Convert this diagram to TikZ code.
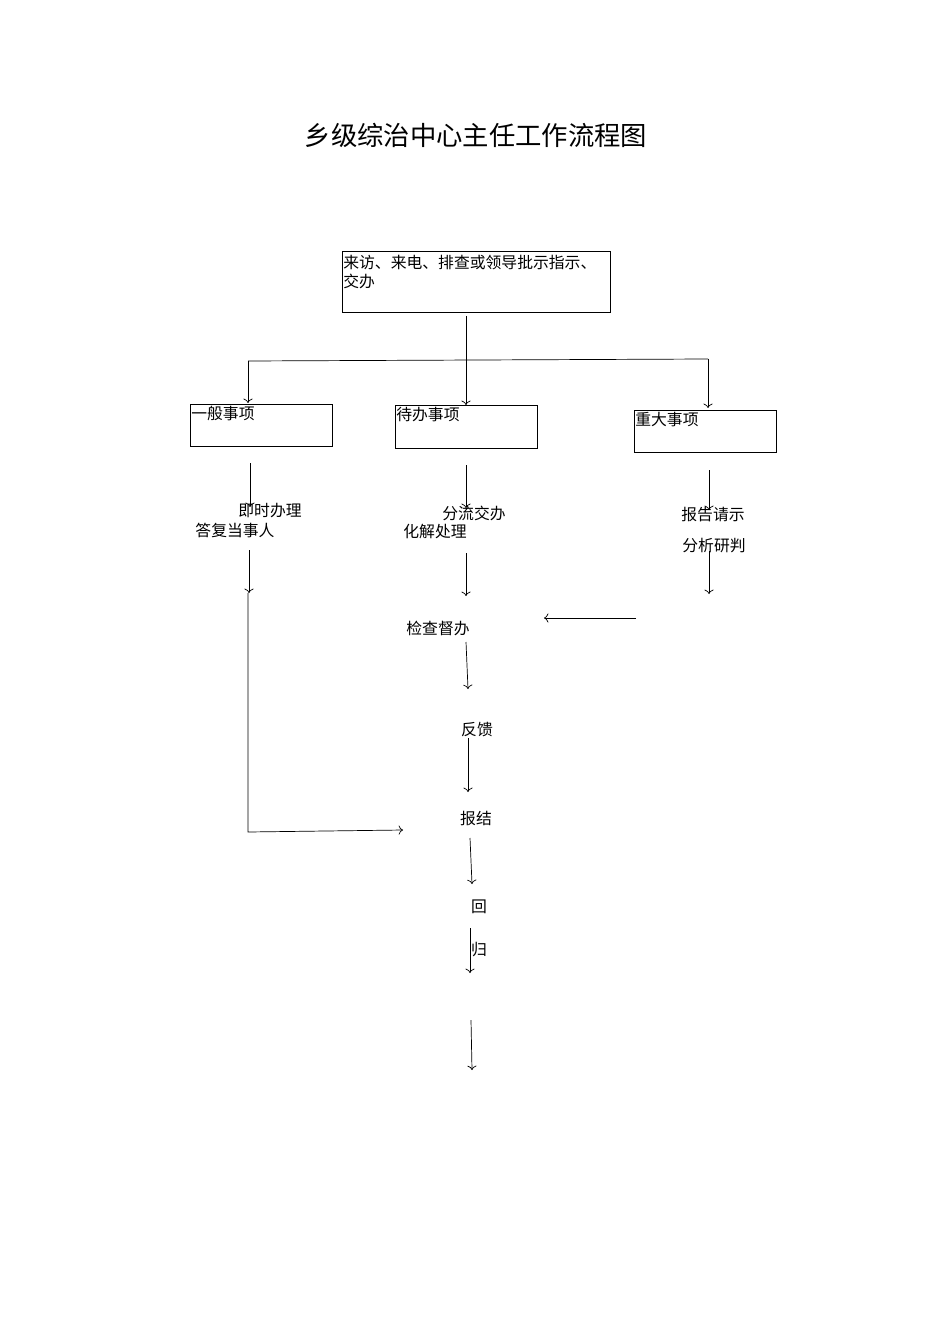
\documentclass[tikz,border=0pt]{standalone}
\usepackage{fontspec}
\newfontfamily\cjk{Noto Sans CJK SC}
\usetikzlibrary{arrows.meta}
\tikzset{
  box/.style={draw, thin, anchor=north west, inner sep=0pt},
  lbl/.style={font=\cjk\fontsize{9}{11}\selectfont, inner sep=0pt},
  arr/.style={thin,->,>=To}
}
\begin{document}
\begin{tikzpicture}[x=0.02cm, y=-0.02cm]
  \useasboundingbox (0,0) rectangle (950,1344);

  % 标题
  \node[font=\cjk\fontsize{15}{18}\selectfont] (title) at (476,135) {乡级综治中心主任工作流程图};

  % 顶部方框
  \draw (342,251) rectangle (610,312);
  \node[lbl, anchor=north west, align=left] (src) at (343,255) {来访、来电、排查或领导批示指示、\\交办};

  % 分支
  \coordinate (top) at (466,316);
  \coordinate (l1) at (248,361);
  \coordinate (r1) at (708,359);
  \draw[arr] (top) -- (466,405);
  \draw (l1) -- (r1);
  \draw[arr] (l1) -- (248,403);
  \draw[arr] (r1) -- (708,408);

  % 三类事项
  \draw (190,404) rectangle (332,446);
  \node[lbl, anchor=north west] (ybsx) at (191,406) {一般事项};
  \draw (395,405) rectangle (537,448);
  \node[lbl, anchor=north west] (dbsx) at (396,407) {待办事项};
  \draw (634,410) rectangle (776,452);
  \node[lbl, anchor=north west] (zdsx) at (635,412) {重大事项};

  \draw[arr] (250,463) -- (250,507);
  \draw[arr] (466,465) -- (466,508);
  \draw[arr] (709,470) -- (709,510);

  \node[lbl] (jsbl) at (270,511) {即时办理};
  \node[lbl] (dfdsr) at (235,530) {答复当事人};
  \node[lbl] (fljb) at (474,513) {分流交办};
  \node[lbl] (hjcl) at (435,532) {化解处理};
  \node[lbl] (bgqs) at (713,515) {报告请示};
  \node[lbl] (fxyp) at (714,546) {分析研判};

  \draw[arr] (249,550) -- (249,593);
  \draw[arr] (466,553) -- (466,596);
  \draw[arr] (709,551) -- (709,594);

  % 回流
  \draw[arr] (248,593) -- (248,832) -- (403,830);
  \draw[arr] (636,618) -- (544,618);

  % 主线
  \node[lbl] (jcdb) at (438,628) {检查督办};
  \draw[arr] (466,642) -- (468,689);
  \node[lbl] (fk) at (477,730) {反馈};
  \draw[arr] (468,738) -- (468,792);
  \node[lbl] (bj) at (476,818) {报结};
  \draw[arr] (470,838) -- (472,884);
  \node[lbl] (hui) at (479,907) {回};
  \node[lbl] (gui) at (479,950) {归};
  \draw[arr] (470,928) -- (470,973);
  \draw[arr] (471,1020) -- (472,1070);
\end{tikzpicture}
\end{document}
